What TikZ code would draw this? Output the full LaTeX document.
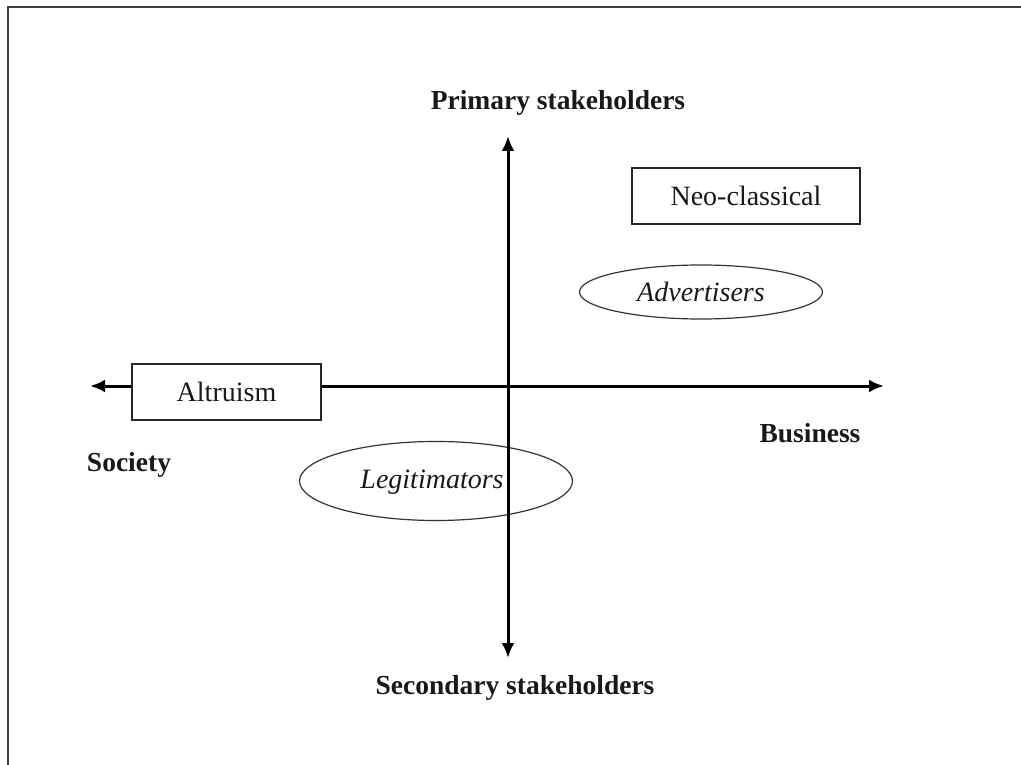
\documentclass[tikz,border=0pt]{standalone}
\usepackage{fontspec}
\setmainfont{Liberation Serif}
\usetikzlibrary{arrows.meta,shapes.geometric}
\tikzset{
  lbl/.style={font=\fontsize{27.5}{33}\selectfont\bfseries, text=black!90, inner sep=0pt},
  boxnode/.style={draw=black!85, line width=1.6pt, fill=white, font=\fontsize{28}{33}\selectfont, inner sep=0pt, text=black!90},
  ellnode/.style={draw=black!80, line width=1.2pt, ellipse, inner sep=0pt, font=\fontsize{28}{33}\selectfont\itshape, text=black!90},
  axis/.style={line width=3pt, {Latex[length=15pt,width=13pt]}-{Latex[length=15pt,width=13pt]}},
  frame/.style={draw=black!75, line width=2.2pt}
}
\begin{document}
\begin{tikzpicture}[x=1pt,y=-1pt]
\useasboundingbox (0,0) rectangle (1021,765);
% frame (top and left only)
\coordinate (fTR) at (1021,7);
\coordinate (fTL) at (8,7);
\coordinate (fBL) at (8,765);
\draw[frame] (fTR) -- (fTL) -- (fBL);

% ellipses
\node[ellnode, minimum width=243pt, minimum height=54pt] (adv) at (701,292) {Advertisers};
\node[ellnode, minimum width=273pt, minimum height=79pt] (leg) at (436,481) {};
\node[font=\fontsize{28}{33}\selectfont\itshape, text=black!90, inner sep=0pt] (legt) at (432,482) {Legitimators};

% axes
\coordinate (xL) at (90,386);
\coordinate (xR) at (884,386);
\coordinate (yT) at (508,136);
\coordinate (yB) at (508,658);
\draw[axis] (xL) -- (xR);
\draw[axis] (yT) -- (yB);

% boxes
\node[boxnode, minimum width=189pt, minimum height=56pt] (alt) at (226.5,392) {Altruism};
\node[boxnode, minimum width=228pt, minimum height=56pt] (neo) at (746,196) {Neo-classical};

% labels
\node[lbl] (prim) at (558,103) {Primary stakeholders};
\node[lbl] (sec) at (515,688) {Secondary stakeholders};
\node[lbl] (bus) at (810,433) {Business};
\node[lbl] (soc) at (129,465) {Society};
\end{tikzpicture}
\end{document}
